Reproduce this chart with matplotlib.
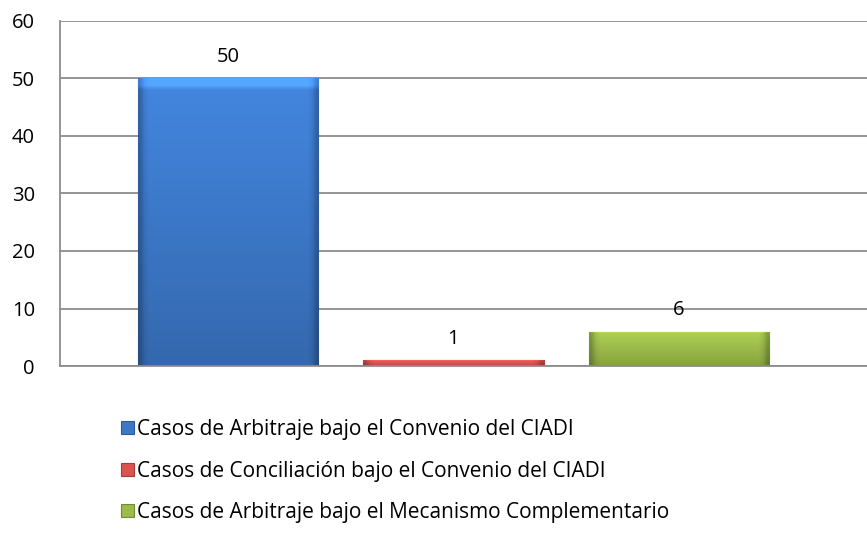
import matplotlib.pyplot as plt
import matplotlib.colors as mcolors
import numpy as np

# --- data ---
series = [
    "Casos de Arbitraje bajo el Convenio del CIADI",
    "Casos de Conciliación bajo el Convenio del CIADI",
    "Casos de Arbitraje bajo el Mecanismo Complementario",
]
values = [50, 1, 6]
colors = ["#3C78C8", "#D9534F", "#9BBB4A"]

plt.rcParams['font.family'] = ['Open Sans', 'DejaVu Sans']

fig = plt.figure(figsize=(8.67, 5.36), dpi=100)
ax = fig.add_axes([0.0692, 0.317, 0.9308, 0.6445])

xpos = np.arange(len(values))
width = 0.8


def shaded(base, ny=60, nx=40):
    # vertical gradient (light top, darker bottom) plus darker side edges
    rgb = np.array(mcolors.to_rgb(base))
    t = np.linspace(0, 1, ny)[:, None]
    s = np.linspace(-1, 1, nx)[None, :]
    factor = 1.12 - 0.25 * t
    edge = np.clip((np.abs(s) - 0.93) / 0.07, 0, 1)
    factor = factor * (1 - 0.25 * edge)
    img = np.clip(rgb[None, None, :] * factor[..., None], 0, 1)
    # light bevel at top
    img[:2] = np.clip(img[:2] * 1.25, 0, 1)
    return img


for x, v, c, lab in zip(xpos, values, colors, series):
    bar = ax.bar(x, v, width=width, color=c, edgecolor=mcolors.to_hex(np.array(mcolors.to_rgb(c)) * 0.75),
                 linewidth=0.8, label=lab, zorder=2)[0]
    im = ax.imshow(shaded(c), extent=[x - width / 2, x + width / 2, 0, v],
                   aspect='auto', zorder=2.5, interpolation='bilinear')
    im.set_clip_path(bar)
    ax.text(x, v + 2.0, str(v), ha='center', va='bottom', fontsize=14.5, color='black')

ax.set_xlim(-0.747, 2.836)
ax.set_ylim(0, 60)
ax.set_yticks(range(0, 61, 10))
ax.set_xticks([])
ax.tick_params(axis='y', length=0, pad=18, labelsize=14.5)

ax.grid(axis='y', color='#8C8C8C', linewidth=1.3, zorder=0)
ax.set_axisbelow(True)
for sp in ['top', 'right']:
    ax.spines[sp].set_visible(False)
ax.spines['left'].set_color('#8C8C8C')
ax.spines['bottom'].set_color('#8C8C8C')
ax.spines['left'].set_linewidth(1.3)
ax.spines['bottom'].set_linewidth(1.3)

ax.legend(loc='center left', bbox_to_anchor=(0.140, 0.121), bbox_transform=fig.transFigure,
          frameon=False, fontsize=15, handlelength=0.6, handleheight=0.6,
          handletextpad=0.15, labelspacing=0.98, borderaxespad=0, borderpad=0)

fig.savefig("out.png", dpi=100)
